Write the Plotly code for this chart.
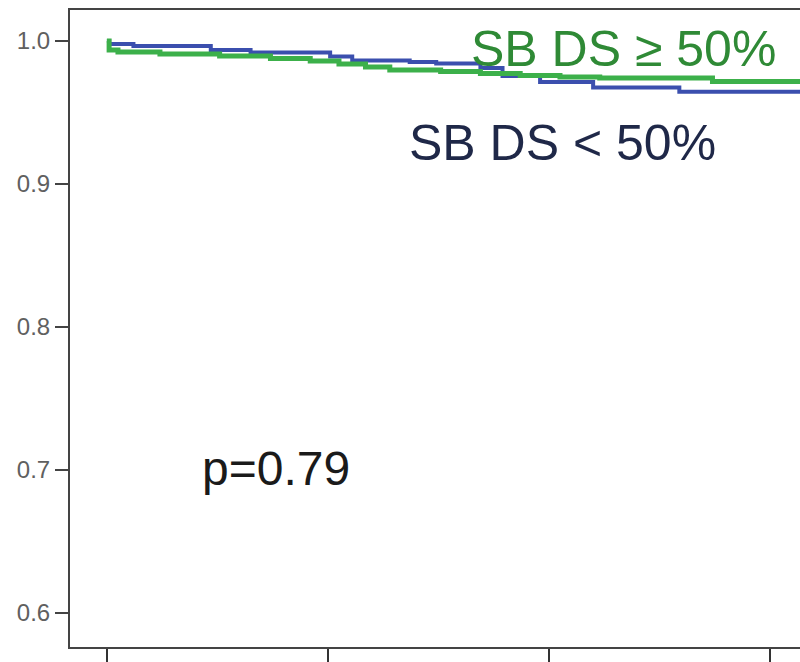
import plotly.graph_objects as go

# Survival curves by side-branch diameter stenosis group (time in years)
blue_t = [0, 0.01, 0.12, 0.47, 0.65, 1.01, 1.11, 1.37, 1.49, 1.69, 1.79, 1.96, 2.20, 2.59, 3.15]
blue_s = [1.0, 0.998, 0.9965, 0.9937, 0.992, 0.9892, 0.9864, 0.9853, 0.9843, 0.9811, 0.9755, 0.9713, 0.9675, 0.9645, 0.9645]

green_t = [0, 0.01, 0.05, 0.24, 0.51, 0.74, 0.92, 1.05, 1.17, 1.28, 1.51, 1.69, 1.87, 2.05, 2.23, 2.74, 3.15]
green_s = [1.0, 0.9937, 0.9923, 0.9909, 0.9895, 0.9878, 0.986, 0.9839, 0.9818, 0.9797, 0.9787, 0.9773, 0.9759, 0.9748, 0.9741, 0.9717, 0.9717]

y_ticks = [0.6, 0.7, 0.8, 0.9, 1.0]
y_tick_text = ["0.6", "0.7", "0.8", "0.9", "1.0"]
x_ticks = [0, 1, 2, 3]

label_hi = "SB DS \u2265 50%"
label_lo = "SB DS < 50%"
p_text = "p=0.79"

FONT = "Arial, Liberation Sans, sans-serif"

fig = go.Figure()
fig.add_trace(go.Scatter(x=blue_t, y=blue_s, mode="lines", line_shape="hv",
                         line=dict(color="#3b4fae", width=4), name=label_lo))
fig.add_trace(go.Scatter(x=green_t, y=green_s, mode="lines", line_shape="hv",
                         line=dict(color="#3cb04a", width=5), name=label_hi))

fig.add_annotation(x=1.64, y=0.9944, xref="x", yref="y", text=label_hi, showarrow=False,
                   xanchor="left", yanchor="middle",
                   font=dict(family=FONT, size=50, color="#2f8a36"))
fig.add_annotation(x=1.36, y=0.929, xref="x", yref="y", text=label_lo, showarrow=False,
                   xanchor="left", yanchor="middle",
                   font=dict(family=FONT, size=50, color="#1f2848"))
fig.add_annotation(x=0.42, y=0.7007, xref="x", yref="y", text=p_text, showarrow=False,
                   xanchor="left", yanchor="middle",
                   font=dict(family=FONT, size=48, color="#1a1a1a"))

fig.update_layout(
    width=800, height=662,
    margin=dict(l=70, r=0, t=10, b=15),
    paper_bgcolor="white", plot_bgcolor="white",
    showlegend=False,
    xaxis=dict(range=[-0.167, 3.136], tickvals=x_ticks, showticklabels=False,
               ticks="outside", ticklen=13, tickwidth=2, tickcolor="#333",
               showline=True, linecolor="#444", linewidth=2, mirror=True,
               showgrid=False, zeroline=False),
    yaxis=dict(range=[0.5762, 1.0217], tickvals=y_ticks, ticktext=y_tick_text,
               ticks="outside", ticklen=13, tickwidth=2, tickcolor="#444",
               tickfont=dict(family=FONT, size=24, color="#606060"),
               showline=True, linecolor="#444", linewidth=2,
               showgrid=False, zeroline=False),
)

fig.write_html("out.html")
